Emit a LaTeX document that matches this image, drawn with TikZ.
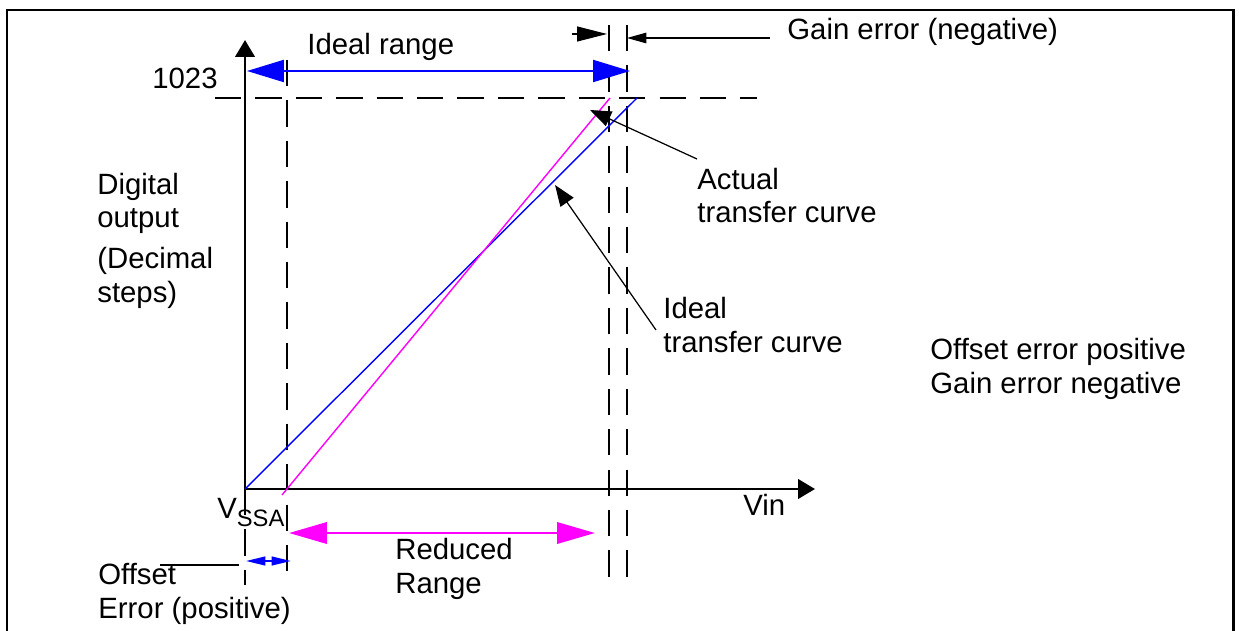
\documentclass[tikz,border=0pt]{standalone}
\usepackage{fontspec}
\setmainfont{Liberation Sans}
\usetikzlibrary{arrows.meta}
\definecolor{actmag}{RGB}{255,0,255}
\definecolor{idblue}{RGB}{0,0,255}

\begin{document}
\begin{tikzpicture}[x=0.02cm, y=-0.02cm,
    every node/.style={font=\fontsize{16.7}{18.8}\selectfont, inner sep=0pt},
    lbl/.style={anchor=base west, align=left},
    axis/.style={line width=1.5pt, -{Triangle[length=9.6pt,width=11pt]}},
    guide/.style={line width=1.3pt, dash pattern=on 15pt off 8pt},
    leader/.style={line width=0.7pt, -{Triangle[length=12pt,width=9pt]}}]
    \useasboundingbox (0,0) rectangle (1239,631);
    \clip (0,0) rectangle (1239,631);
    \draw[line width=1.7pt] (7,10) rectangle (1233,660);

    \coordinate (O) at (245,489);
    \coordinate (yTop) at (245,40);
    \coordinate (xEnd) at (815,489);
    \coordinate (I1) at (637,98);
    \coordinate (A0) at (282,495);
    \coordinate (A1) at (610,98);

    \foreach \x/\ya/\yb in {245/489/585, 287/60/580, 609/25/577, 627/25/587}
        \draw[guide] (\x,\ya) -- (\x,\yb);
    \draw[guide] (215,98) -- (757,98);

    \draw[axis] (O) -- (yTop);
    \draw[axis] (O) -- (xEnd);

    \draw[idblue, line width=0.8pt] (O) -- (I1);
    \draw[actmag, line width=0.8pt] (A0) -- (A1);

    \coordinate (R0) at (247,71);
    \coordinate (R1) at (630,71);
    \draw[idblue, line width=1.2pt, {Triangle[length=21pt,width=12.5pt]}-{Triangle[length=21pt,width=12.5pt]}] (R0) -- (R1);

    \coordinate (D0) at (289,533);
    \coordinate (D1) at (595,533);
    \draw[actmag, line width=1.7pt, {Triangle[length=21.5pt,width=12pt]}-{Triangle[length=21.5pt,width=12pt]}] (D0) -- (D1);

    \coordinate (E0) at (246,561);
    \coordinate (E1) at (291,561);
    \draw[idblue, line width=1pt, {Triangle[length=11pt,width=5pt]}-{Triangle[length=11pt,width=5pt]}] (E0) -- (E1);

    \coordinate (G0) at (572,34);
    \coordinate (G1) at (607,34);
    \coordinate (G2) at (770,38);
    \coordinate (G3) at (627,38);
    \draw[line width=0.6pt, -{Triangle[length=17pt,width=8.5pt]}] (G0) -- (G1);
    \draw[line width=0.6pt, -{Triangle[length=11pt,width=6pt]}] (G2) -- (G3);

    \coordinate (actTail) at (697,159);
    \coordinate (actTip) at (590,110);
    \coordinate (idTail) at (656,330);
    \coordinate (idTip) at (555,185);
    \draw[leader] (actTail) -- (actTip);
    \draw[leader] (idTail) -- (idTip);

    \coordinate (off0) at (160,565);
    \coordinate (off1) at (239,565);
    \draw[line width=0.6pt] (off0) -- (off1);

    \node[lbl] (range) at (307,55) {Ideal range};
    \node[lbl] (top) at (152,89) {1023};
    \node[lbl] (gain) at (787,40) {Gain error (negative)};
    \node[lbl] (actual) at (697,223) {Actual\\transfer curve};
    \node[lbl] (ideal) at (663,352) {Ideal\\transfer curve};
    \node[lbl] (dig) at (97,228) {Digital\\output};
    \node[lbl] (dec) at (97,302) {(Decimal\\steps)};
    \node[lbl] (note) at (930,393) {Offset error positive\\Gain error negative};
    \node[lbl] (vssa) at (217,518) {V{\fontsize{13.5}{14}\selectfont\raisebox{-5pt}{SSA}}};
    \node[lbl] (vin) at (743,515) {Vin};
    \node[lbl] (red) at (395,593) {Reduced\\Range};
    \node[lbl] (offs) at (98,618) {Offset\\Error (positive)};
\end{tikzpicture}
\end{document}
